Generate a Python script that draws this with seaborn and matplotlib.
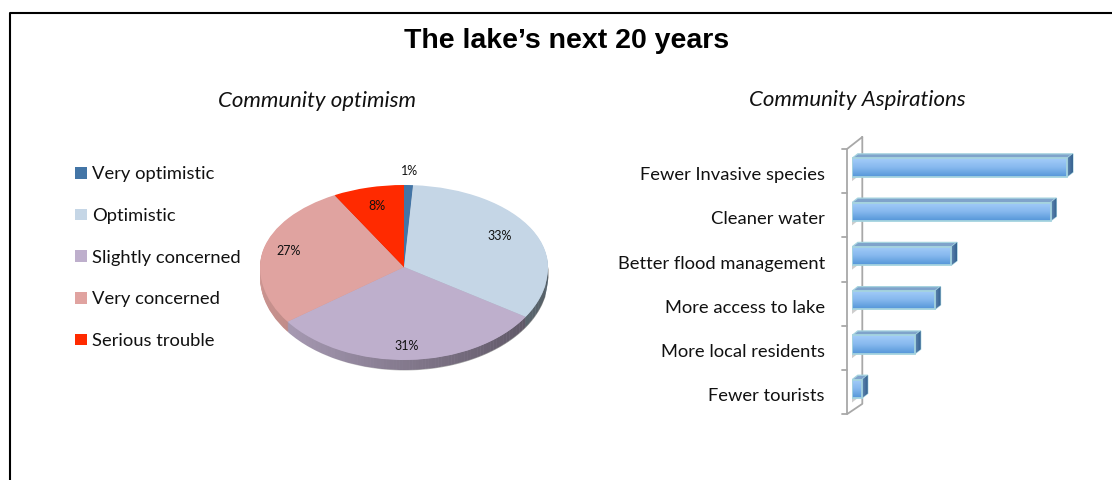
import numpy as np
import seaborn as sns
import matplotlib.pyplot as plt
from matplotlib.colors import LinearSegmentedColormap
from matplotlib.lines import Line2D
from matplotlib.patches import Polygon
from matplotlib.transforms import ScaledTranslation

# Data
title = "The lake\u2019s next 20 years"
pie_title = "Community optimism"
bar_title = "Community Aspirations"
pie_labels = ["Very optimistic", "Optimistic", "Slightly concerned", "Very concerned", "Serious trouble"]
pie_values = [1, 33, 31, 27, 8]
pie_colors = ["#4375A6", "#C5D6E6", "#BEAFCC", "#E0A3A0", "#FF2A00"]
side_colors = ["#35597D", "#A9BDCC", "#B3A5C0", "#D09894", "#C02000"]
bar_labels = ["Fewer Invasive species", "Cleaner water", "Better flood management",
              "More access to lake", "More local residents", "Fewer tourists"]
bar_values = [65, 60, 30, 25, 19, 3]

W, H = 1112, 480

sns.set_theme(style="white")
plt.rcParams["font.family"] = ["Lato", "DejaVu Sans"]
plt.rcParams["text.color"] = "#111111"

fig = plt.figure(figsize=(W / 100, H / 100), dpi=100, facecolor="white")


def px_axes(left, top, right, bottom):
    return fig.add_axes([left / W, 1 - bottom / H, (right - left) / W, (bottom - top) / H])


# frame and headings
fig.add_artist(Line2D([10 / W, 10 / W, 1], [0, 1 - 13 / H, 1 - 13 / H], color="black", lw=1.5))
fig.text(566.5 / W, 1 - 40.5 / H, title, ha="center", va="center", fontsize=20.5,
         fontweight="bold", family="Liberation Sans", color="black")
fig.text(316.5 / W, 1 - 101 / H, pie_title, ha="center", va="center", fontsize=16, style="italic")
fig.text(857.5 / W, 1 - 100 / H, bar_title, ha="center", va="center", fontsize=16, style="italic")

# --- pie ---
# the tilted pie has its apex above the middle, so upper and lower half get different scales
RX, RY_UP, RY_DOWN = 144, 82, 93
DEPTH = 10 / RY_DOWN

ax_pie = px_axes(404 - 160, 170, 404 + 160, 380)
wedges, _, autotexts = ax_pie.pie(pie_values, colors=pie_colors, startangle=90, counterclock=False,
                                  autopct="%1.0f%%", pctdistance=0.8,
                                  wedgeprops={"linewidth": 0}, textprops={"fontsize": 9})
for w in wedges:
    w.set_zorder(10)
# nudges in pixels, right and up
nudges = [(0, 0), (-7, 1), (-1, -4), (-3, 2), (2, -3)]
for t, (nx, ny) in zip(autotexts, nudges):
    t.set_zorder(12)
    t.set_color("#111111")
    x, y = t.get_position()
    t.set_position((x + nx / RX, y + ny / RY_UP))
autotexts[0].set_position((0.04, 1.17))

for d in np.linspace(DEPTH, 0.01, 11):
    side, _ = ax_pie.pie(pie_values, colors=side_colors, startangle=90, counterclock=False,
                         center=(0, -d), wedgeprops={"linewidth": 0})
    for w in side:
        w.set_zorder(2)

# darken the rim towards the right
edges = np.linspace(-1, 1, 90)
for x0, x1 in zip(edges[:-1], edges[1:]):
    xs = np.array([x0, x1])
    low = -np.sqrt(np.clip(1 - xs ** 2, 0, 1))
    strip = ax_pie.fill_between(xs, low - DEPTH, low + 0.01, color="black", linewidth=0, zorder=5,
                                alpha=0.03 + 0.47 * (x0 + 1) / 2)
    strip.set_snap(False)

ax_pie.set_yscale("function", functions=(
    lambda y: np.where(y > 0, y * RY_UP, y * RY_DOWN),
    lambda v: np.where(v > 0, v / RY_UP, v / RY_DOWN)))
ax_pie.set_aspect("auto")
ax_pie.set_xlim(-160 / RX, 160 / RX)
ax_pie.set_ylim(-113 / RY_DOWN, 97 / RY_UP)
ax_pie.set_axis_off()

legend = ax_pie.legend(wedges, pie_labels, loc="upper left", bbox_to_anchor=(68 / W, 1 - 159 / H),
                       bbox_transform=fig.transFigure, frameon=False, fontsize=13.2,
                       handlelength=0.62, handleheight=0.62, handletextpad=0.27,
                       labelspacing=1.4, borderpad=0.4, borderaxespad=0)

# --- bars ---
PX_X = 3.31
PX_Y = 44.3
BAR_W = 18.3 / PX_Y
front_cmap = LinearSegmentedColormap.from_list("front", ["#A4CDF9", "#86B8EE", "#5496D8"])
side_cmap = LinearSegmentedColormap.from_list("side", ["#5F86B0", "#34608F"])

ax_bar = px_axes(852, 145.35, W, 411)
sns.barplot(x=bar_values, y=bar_labels, orient="h", width=BAR_W, color="#8DBBEE", ax=ax_bar, zorder=4)
ax_bar.set_xlim(0, (W - 852) / PX_X)
ax_bar.set_ylim(5.5, -0.5)
ax_bar.set_xlabel("")
ax_bar.set_ylabel("")
ax_bar.set_xticks([])
sns.despine(ax=ax_bar, left=True, bottom=True)
ax_bar.patch.set_alpha(0)
ax_bar.tick_params(axis="y", length=0, pad=19.5, labelsize=13.2, colors="#111111")
shift = ScaledTranslation(0, -6 / 100, fig.dpi_scale_trans)
for label in ax_bar.get_yticklabels():
    label.set_transform(label.get_transform() + shift)

# wall of the pseudo 3D axis
wall = "#A8A8A8"
xf, xb, xt = -5 / PX_X, 10.3 / PX_X, -10.5 / PX_X
yf_top, yb_top = (149 - 145.35) / PX_Y - 0.5, (137 - 145.35) / PX_Y - 0.5
yf_bot, yb_bot = (414.3 - 145.35) / PX_Y - 0.5, (404 - 145.35) / PX_Y - 0.5
ax_bar.plot([xb, xf, xf, xb, xb], [yb_top, yf_top, yf_bot, yb_bot, yb_top], color=wall, lw=1.3,
            clip_on=False, zorder=1)
for i in range(7):
    y_tick = yf_top + i * (yf_bot - yf_top) / 6
    ax_bar.plot([xt, xf], [y_tick, y_tick], color=wall, lw=1.3, clip_on=False, zorder=1)

dx3, dy3 = 5.8 / PX_X, 4.5 / PX_Y
grad = np.linspace(0, 1, 64).reshape(-1, 1)
for bar in list(ax_bar.patches):
    x0, x1 = bar.get_x(), bar.get_x() + bar.get_width()
    y0, y1 = bar.get_y(), bar.get_y() + bar.get_height()
    bar.set_edgecolor("#A5D3DF")
    bar.set_linewidth(1.3)
    bar.set_facecolor("none")
    bar.set_zorder(6)
    # small shadow falling on the wall
    ax_bar.add_patch(Polygon([(x0, y1), (x0 + dx3, y1), (x0, y1 + dy3)],
                             closed=True, fc="#B8B8B8", ec="none", alpha=0.7, zorder=2))
    ax_bar.add_patch(Polygon([(x0, y0), (x0 + dx3, y0 - dy3), (x1 + dx3, y0 - dy3), (x1, y0)],
                             closed=True, fc="#7FA3CB", ec="#A5D3DF", lw=0.9, zorder=4))
    side = Polygon([(x1, y0), (x1 + dx3, y0 - dy3), (x1 + dx3, y1 - dy3), (x1, y1)],
                   closed=True, fc="#41699A", ec="#A5D3DF", lw=0.9, zorder=4)
    ax_bar.add_patch(side)
    front = ax_bar.imshow(grad, cmap=front_cmap, aspect="auto", extent=(x0, x1, y1, y0), zorder=5)
    front.set_clip_path(bar)
    shade = ax_bar.imshow(grad.T, cmap=side_cmap, aspect="auto", extent=(x1, x1 + dx3, y1, y0 - dy3), zorder=5)
    shade.set_clip_path(side)
ax_bar.set_xlim(0, (W - 852) / PX_X)
ax_bar.set_ylim(5.5, -0.5)

fig.savefig("out.png", dpi=100)
